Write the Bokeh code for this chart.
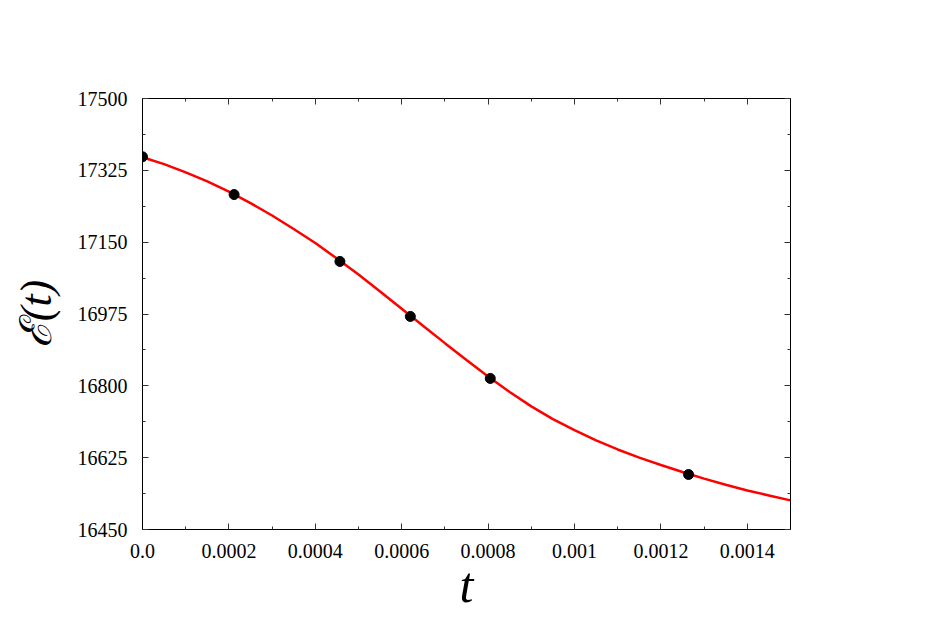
from bokeh.plotting import figure
from bokeh.models import LinearAxis, FixedTicker, Range1d
from bokeh.embed import file_html
from bokeh.resources import INLINE

# smooth curve
curve_t = [0.0, 0.00005, 0.0001, 0.00015, 0.0002, 0.00025, 0.0003, 0.00035,
           0.0004, 0.00045, 0.0005, 0.00055, 0.0006, 0.00065, 0.0007, 0.00075,
           0.0008, 0.00085, 0.0009, 0.00095, 0.0010, 0.00105, 0.0011, 0.00115,
           0.0012, 0.00125, 0.0013, 0.00135, 0.0014, 0.00145, 0.0015]
curve_E = [17357, 17340, 17320, 17298, 17273, 17245, 17215, 17182,
           17148, 17110, 17071, 17030, 16988, 16946, 16904, 16863,
           16823, 16785, 16750, 16719, 16692, 16667, 16645, 16625,
           16607, 16590, 16574, 16559, 16545, 16533, 16521]

# sample points
pts_t = [0.0, 0.000212, 0.000457, 0.00062, 0.000805, 0.001264]
pts_E = [17358, 17266, 17103, 16969, 16818, 16584]

x_ticks = [0.0, 0.0002, 0.0004, 0.0006, 0.0008, 0.0010, 0.0012, 0.0014]
x_labels = ["0.0", "0.0002", "0.0004", "0.0006", "0.0008", "0.001", "0.0012", "0.0014"]
x_minor = [0.0001, 0.0003, 0.0005, 0.0007, 0.0009, 0.0011, 0.0013]
y_ticks = [16450, 16625, 16800, 16975, 17150, 17325, 17500]
y_minor = [16537.5, 16712.5, 16887.5, 17062.5, 17237.5, 17412.5]

FONT = "Liberation Serif"

p = figure(output_backend="svg", toolbar_location=None,
           frame_width=648, frame_height=431,
           min_border_left=142, min_border_right=128,
           min_border_top=98, min_border_bottom=81,
           x_range=Range1d(0.0, 0.0015), y_range=Range1d(16450, 17500),
           x_axis_location=None, y_axis_location=None)
p.grid.visible = False
p.outline_line_color = "black"
p.outline_line_width = 1
p.background_fill_color = "white"
p.border_fill_color = "white"

def style(ax, ticks, minor, show_labels):
    ax.ticker = FixedTicker(ticks=ticks, minor_ticks=minor)
    ax.major_tick_in = 6
    ax.major_tick_out = 0
    ax.minor_tick_in = 3
    ax.minor_tick_out = 0
    ax.axis_line_color = "black"
    ax.major_tick_line_color = "#333333"
    ax.minor_tick_line_color = "#333333"
    ax.major_label_text_font = FONT
    ax.major_label_text_font_size = "20px"
    ax.major_label_text_color = "black"
    ax.axis_label_text_color = "black"
    if not show_labels:
        ax.major_label_text_color = None
        ax.major_label_text_font_size = "0px"

bottom = LinearAxis(axis_label="t")
style(bottom, x_ticks, x_minor, True)
bottom.major_label_overrides = {t: l for t, l in zip(x_ticks, x_labels)}
bottom.major_label_standoff = 14
bottom.axis_label_text_font = FONT
bottom.axis_label_text_font_style = "italic"
bottom.axis_label_text_font_size = "50px"
bottom.axis_label_standoff = -4
p.add_layout(bottom, "below")

left = LinearAxis(axis_label="ℰ(t)")
style(left, y_ticks, y_minor, True)
left.major_label_standoff = 15
left.axis_label_text_font = FONT
left.axis_label_text_font_style = "italic"
left.axis_label_text_font_size = "44px"
left.axis_label_standoff = 14
p.add_layout(left, "left")

top = LinearAxis()
style(top, x_ticks, x_minor, False)
p.add_layout(top, "above")

right = LinearAxis()
style(right, y_ticks, y_minor, False)
p.add_layout(right, "right")

p.line(curve_t, curve_E, line_color="#ff0000", line_width=2.5)
p.scatter(pts_t, pts_E, size=10, fill_color="black", line_color="black")

open("out.html", "w").write(file_html(p, INLINE))
